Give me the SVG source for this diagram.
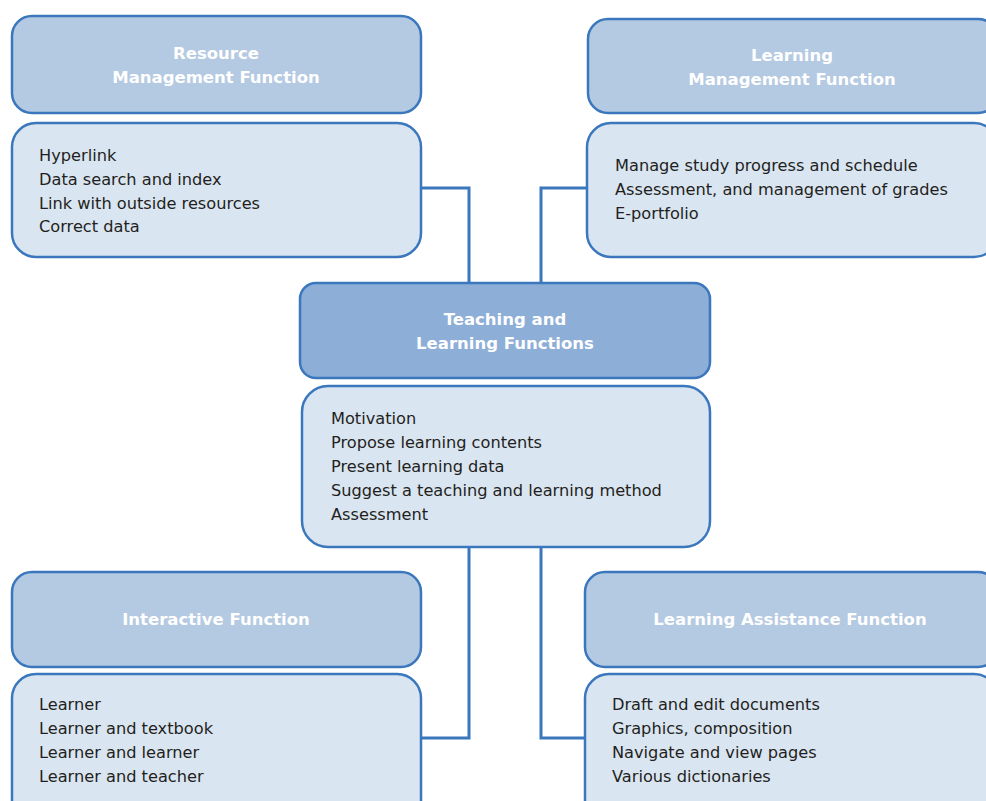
<svg xmlns="http://www.w3.org/2000/svg" width="986" height="801" viewBox="0 0 986 801">
  <style>
    .hdr { fill: #b4c9e2; stroke: #3a77bd; stroke-width: 2.5; }
    .hdr-main { fill: #8daed7; stroke: #3a77bd; stroke-width: 2.5; }
    .body { fill: #dae5f2; stroke: #3a77bd; stroke-width: 2.5; }
    .title { font-family: "DejaVu Sans", Verdana, sans-serif; font-size: 16.5px; font-weight: bold; fill: #ffffff; text-anchor: middle; }
    .item { font-family: "DejaVu Sans", Verdana, sans-serif; font-size: 16.2px; fill: #231f20; }
    .link { fill: none; stroke: #3a77bd; stroke-width: 3; }
  </style>
  <rect width="986" height="801" fill="#ffffff"/>

  <!-- connectors -->
  <g id="connectors">
    <polyline class="link" points="421,188 469,188 469,284"/>
    <polyline class="link" points="587,188 541,188 541,284"/>
    <polyline class="link" points="469,547 469,738 421,738"/>
    <polyline class="link" points="541,547 541,738 585,738"/>
  </g>

  <g id="resource-management">
    <rect class="hdr" x="12" y="16" width="409" height="97" rx="20"/>
    <text class="title" x="216" y="59">Resource</text>
    <text class="title" x="216" y="83">Management Function</text>
    <rect class="body" x="12" y="123" width="409" height="134" rx="24"/>
    <text class="item" x="39" y="161">Hyperlink</text>
    <text class="item" x="39" y="185">Data search and index</text>
    <text class="item" x="39" y="209">Link with outside resources</text>
    <text class="item" x="39" y="232">Correct data</text>
  </g>

  <g id="learning-management">
    <rect class="hdr" x="588" y="19" width="410" height="94" rx="20"/>
    <text class="title" x="792" y="61">Learning</text>
    <text class="title" x="792" y="85">Management Function</text>
    <rect class="body" x="587" y="123" width="411" height="134" rx="24"/>
    <text class="item" x="615" y="171">Manage study progress and schedule</text>
    <text class="item" x="615" y="195">Assessment, and management of grades</text>
    <text class="item" x="615" y="219">E-portfolio</text>
  </g>

  <g id="teaching-learning">
    <rect class="hdr-main" x="300" y="283" width="410" height="95" rx="16"/>
    <text class="title" x="505" y="325">Teaching and</text>
    <text class="title" x="505" y="349">Learning Functions</text>
    <rect class="body" x="302" y="386" width="408" height="161" rx="26"/>
    <text class="item" x="331" y="424">Motivation</text>
    <text class="item" x="331" y="448">Propose learning contents</text>
    <text class="item" x="331" y="472">Present learning data</text>
    <text class="item" x="331" y="496">Suggest a teaching and learning method</text>
    <text class="item" x="331" y="520">Assessment</text>
  </g>

  <g id="interactive">
    <rect class="hdr" x="12" y="572" width="409" height="95" rx="20"/>
    <text class="title" x="216" y="625">Interactive Function</text>
    <rect class="body" x="12" y="674" width="409" height="160" rx="24"/>
    <text class="item" x="39" y="710">Learner</text>
    <text class="item" x="39" y="734">Learner and textbook</text>
    <text class="item" x="39" y="758">Learner and learner</text>
    <text class="item" x="39" y="782">Learner and teacher</text>
  </g>

  <g id="learning-assistance">
    <rect class="hdr" x="585" y="572" width="413" height="95" rx="20"/>
    <text class="title" x="790" y="625">Learning Assistance Function</text>
    <rect class="body" x="585" y="674" width="413" height="160" rx="24"/>
    <text class="item" x="612" y="710">Draft and edit documents</text>
    <text class="item" x="612" y="734">Graphics, composition</text>
    <text class="item" x="612" y="758">Navigate and view pages</text>
    <text class="item" x="612" y="782">Various dictionaries</text>
  </g>
</svg>
